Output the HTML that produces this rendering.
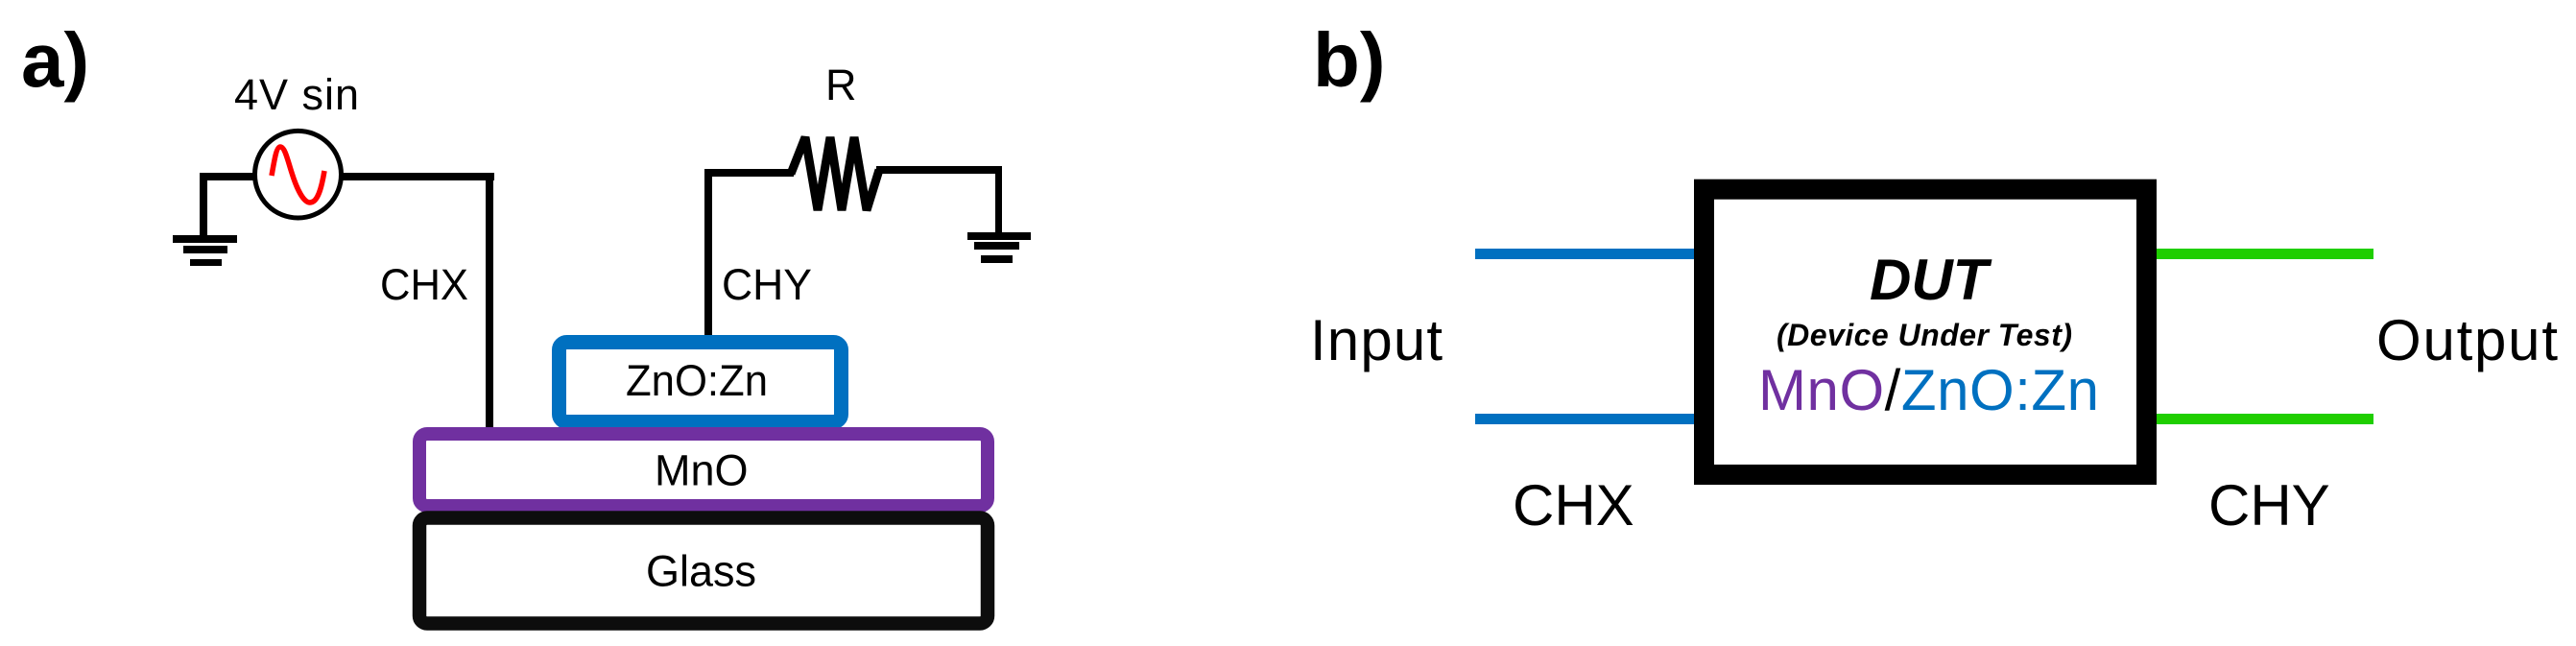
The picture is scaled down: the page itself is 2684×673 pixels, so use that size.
<!DOCTYPE html>
<html>
<head>
<meta charset="utf-8">
<style>
html,body{margin:0;padding:0;background:#fff;}
svg{display:block;}
text{font-family:"Liberation Sans",Arial,sans-serif;fill:#000;}
</style>
</head>
<body>
<svg xmlns="http://www.w3.org/2000/svg" width="2684" height="673" viewBox="0 0 2684 673">
<rect width="2684" height="673" fill="#fff"/>

<!-- Panel a -->
<text x="22" y="90" font-size="80" font-weight="bold">a)</text>
<text x="244" y="114" font-size="45" textLength="130" lengthAdjust="spacing">4V sin</text>

<!-- left ground and wire -->
<rect x="208" y="180" width="60" height="8"/>
<rect x="208" y="180" width="8" height="66"/>
<rect x="180" y="245" width="67" height="8"/>
<rect x="191" y="256" width="46" height="8"/>
<rect x="198" y="270" width="33" height="7"/>

<!-- source to CHX -->
<rect x="355" y="180" width="160" height="8"/>
<rect x="506" y="180" width="8" height="268"/>
<ellipse cx="310.5" cy="181.7" rx="45" ry="45.3" fill="#fff" stroke="#000" stroke-width="5"/>
<path d="M283 183 C286 166 288 153 292 153 C297 153 300 168 304 180 C309 196 316 211 323 211 C331 211 335 196 338 178" fill="none" stroke="#f00" stroke-width="5.5"/>

<text x="396" y="312" font-size="45" textLength="92" lengthAdjust="spacingAndGlyphs">CHX</text>

<!-- resistor side -->
<rect x="734" y="176" width="8" height="174"/>
<rect x="734" y="176" width="93" height="8"/>
<polyline points="824,181 839,143 852,219 865,143 877,219 890,143 903,219 916,177" fill="none" stroke="#000" stroke-width="9" stroke-linejoin="bevel"/>
<rect x="913" y="173" width="131" height="8"/>
<rect x="1037" y="173" width="7" height="70"/>
<rect x="1008" y="242" width="66" height="8"/>
<rect x="1015" y="252" width="47" height="8"/>
<rect x="1022" y="266" width="33" height="8"/>
<text x="860" y="104" font-size="45">R</text>
<text x="752" y="312" font-size="45" textLength="94" lengthAdjust="spacingAndGlyphs">CHY</text>

<!-- layers -->
<rect x="582.5" y="356.5" width="294" height="83" rx="8" fill="#fff" stroke="#0070C0" stroke-width="15"/>
<rect x="437" y="452" width="592" height="75" rx="8" fill="#fff" stroke="#7030A0" stroke-width="14"/>
<rect x="437" y="539.5" width="592" height="110" rx="8" fill="#fff" stroke="#0D0D0D" stroke-width="14.5"/>
<text x="652" y="412" font-size="45" textLength="148" lengthAdjust="spacingAndGlyphs">ZnO:Zn</text>
<text x="682" y="505.5" font-size="45">MnO</text>
<text x="673" y="610.5" font-size="45">Glass</text>

<!-- Panel b -->
<text x="1368" y="90" font-size="80" font-weight="bold">b)</text>

<rect x="1537" y="259" width="230" height="11" fill="#0070C0"/>
<rect x="1537" y="431" width="230" height="11" fill="#0070C0"/>
<rect x="2245" y="259" width="228" height="11" fill="#1FCE00"/>
<rect x="2245" y="431" width="228" height="11" fill="#1FCE00"/>

<rect x="1775.5" y="197.2" width="461" height="297.3" fill="#fff" stroke="#000" stroke-width="21"/>

<text x="1365" y="375" font-size="60" textLength="138" lengthAdjust="spacing">Input</text>
<text x="2476" y="375" font-size="60" textLength="189" lengthAdjust="spacing">Output</text>
<text x="1576" y="547" font-size="60">CHX</text>
<text x="2301" y="547" font-size="60">CHY</text>

<text x="1948" y="312" font-size="60" font-weight="bold" font-style="italic">DUT</text>
<text x="1851" y="360" font-size="32" font-weight="bold" font-style="italic" textLength="308" lengthAdjust="spacing">(Device Under Test)</text>
<text x="1832" y="427" font-size="60" textLength="355" lengthAdjust="spacing"><tspan style="fill:#7030A0">MnO</tspan><tspan style="fill:#000">/</tspan><tspan style="fill:#0070C0">ZnO:Zn</tspan></text>
</svg>
</body>
</html>
